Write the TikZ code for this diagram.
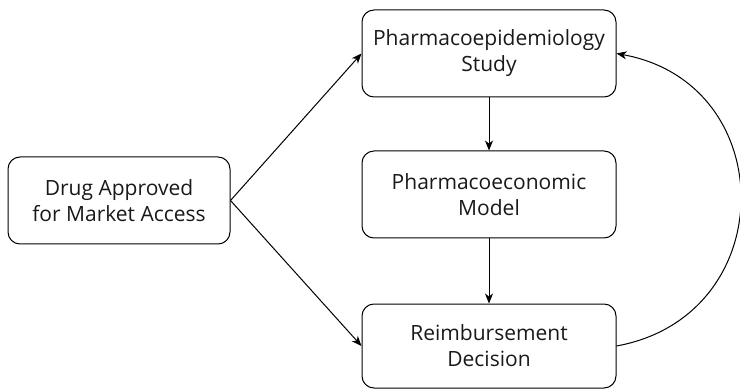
\documentclass[tikz,border=0pt]{standalone}
\usepackage{fontspec}
\setmainfont{Open Sans}
\usetikzlibrary{arrows.meta}
\begin{document}
\begin{tikzpicture}[x=1pt,y=1pt,
  box/.style={draw, line width=1pt, rounded corners=12pt, align=center,
    font=\fontsize{21}{26}\selectfont, text=black!90, inner sep=0pt},
  link/.style={line width=1pt, -{Stealth[length=10pt,width=8pt,inset=3pt]}}]
  \useasboundingbox (0,0) rectangle (740,389);
  \node[box, minimum width=222pt, minimum height=87pt] (drug) at (119,188.5)
    {Drug Approved\\for Market Access};
  \node[box, minimum width=254pt, minimum height=87pt] (study) at (489,335.5)
    {Pharmacoepidemiology\\Study};
  \node[box, minimum width=254pt, minimum height=87pt] (model) at (489,194.5)
    {Pharmacoeconomic\\Model};
  \node[box, minimum width=254pt, minimum height=84pt] (decision) at (489,43)
    {Reimbursement\\Decision};
  \draw[link] (drug.east) -- (study.west);
  \draw[link] (drug.east) -- (decision.west);
  \draw[link] (study) -- (model);
  \draw[link] (model) -- (decision);
  \draw[link] (decision.east) .. controls +(165,30) and +(165,-30) .. (study.east);
\end{tikzpicture}
\end{document}
